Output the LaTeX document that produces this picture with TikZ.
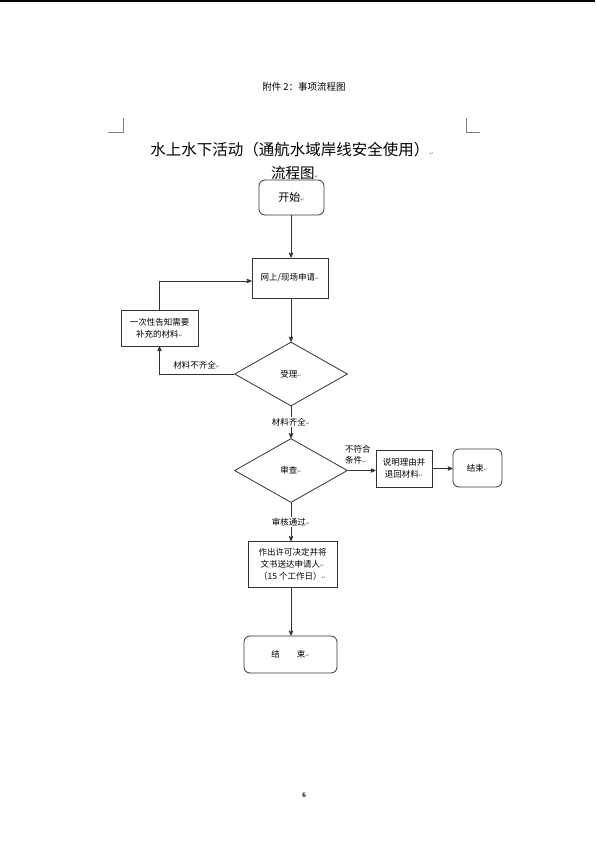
\documentclass[tikz,border=0pt]{standalone}
\usepackage{fontspec}
\setmainfont{Noto Sans CJK SC}
\newfontfamily\symfont{DejaVu Sans}
\newfontfamily\zahlfont{Liberation Serif}
\usetikzlibrary{arrows,shapes.geometric}
\newcommand{\absatz}{{\symfont\fontsize{5}{5}\selectfont\color{black!55}↵}}
\tikzset{
    %Define standard arrow tip
    >=stealth',
    kasten/.style={
      rectangle,
      draw=black!80, line width=0.8pt,
      inner sep=2pt,
      align=center,
      font=\fontsize{8.5}{12}\selectfont},
    ende/.style={
      kasten,
      rounded corners=6pt},
    raute/.style={
      diamond,
      draw=black!80, line width=0.8pt,
      inner sep=0pt,
      minimum width=113pt,
      minimum height=64pt,
      font=\fontsize{8.5}{12}\selectfont},
    hinweis/.style={
      align=left,
      inner sep=1pt,
      font=\fontsize{8.5}{11}\selectfont},
    linie/.style={
      draw=black!80, line width=0.8pt},
    marke/.style={
      draw=black!50, line width=0.6pt},
}

\begin{document}
\begin{tikzpicture}[x=1pt,y=-1pt]
    \useasboundingbox (0,0) rectangle (595,841);
    % page frame
    \draw[line width=2pt] (0,1) -- (595,1);
    \node (kopf) at (304,87) {\fontsize{9.5}{11}\selectfont 附件 2：事项流程图};
    \draw[marke] (108,132) -- (123,132) -- (123,118);
    \draw[marke] (466,118) -- (466,132) -- (480,132);
    \node (titel) at (292,150) {\fontsize{15.5}{18}\selectfont 水上水下活动（通航水域岸线安全使用）\absatz};
    \node (titel2) at (295,173) {\fontsize{14.5}{16}\selectfont 流程图\absatz};

    % flow
    \node (start) [ende, minimum width=65pt, minimum height=35pt] at (291.5,197.5)
          {\fontsize{11}{13}\selectfont 开始\absatz};
    \node (antrag) [kasten, minimum width=76pt, minimum height=40pt] at (290,278)
          {网上/现场申请\absatz};
    \node (annahme) [raute] at (291,374)
          {受理\absatz};
    \node (nachford) [kasten, minimum width=77pt, minimum height=36pt] at (159.5,328)
          {一次性告知需要\\补充的材料\absatz};
    \node (pruefung) [raute] at (291,470.5)
          {审查\absatz};
    \node (rueck) [kasten, minimum width=56pt, minimum height=37pt] at (404,468.5)
          {说明理由并\\退回材料\absatz};
    \node (schluss1) [ende, minimum width=49pt, minimum height=38pt] at (477.5,468)
          {结束\absatz};
    \node (bescheid) [kasten, minimum width=89pt, minimum height=46pt] at (292.5,564.5)
          {作出许可决定并将\\文书送达申请人\absatz\\（15 个工作日）\absatz};
    \node (schluss2) [ende, minimum width=93pt, minimum height=37pt] at (290.5,654.5)
          {结\hspace{2em}束\absatz};

    % connectors
    \draw[linie,->] (start.south -| annahme.north) -- (antrag.north -| annahme.north);
    \draw[linie,->] (antrag.south -| annahme.north) -- (annahme.north);
    \draw[linie,->] (annahme.west) -- node[hinweis, above=3pt] {材料不齐全\absatz}
          (nachford.south |- annahme.west) -- (nachford.south);
    \draw[linie,->] (nachford.north) |- ([yshift=-3pt]antrag.west);
    \draw[linie,->] (annahme.south) -- node[hinweis, fill=white] {材料齐全\absatz}
          (pruefung.north);
    \draw[linie,->] (pruefung.east) -- node[hinweis, above=5pt, xshift=-4pt] {不符合\\条件\absatz}
          (pruefung.east -| rueck.west);
    \draw[linie,->] (rueck.east) -- (rueck.east -| schluss1.west);
    \draw[linie,->] (pruefung.south) -- node[hinweis, fill=white] {审核通过\absatz}
          (bescheid.north -| pruefung.south);
    \draw[linie,->] (bescheid.south -| pruefung.south) -- (schluss2.north -| pruefung.south);

    \node (seite) at (304,795) {\zahlfont\bfseries\fontsize{7}{8}\selectfont 6};
\end{tikzpicture}
\end{document}
